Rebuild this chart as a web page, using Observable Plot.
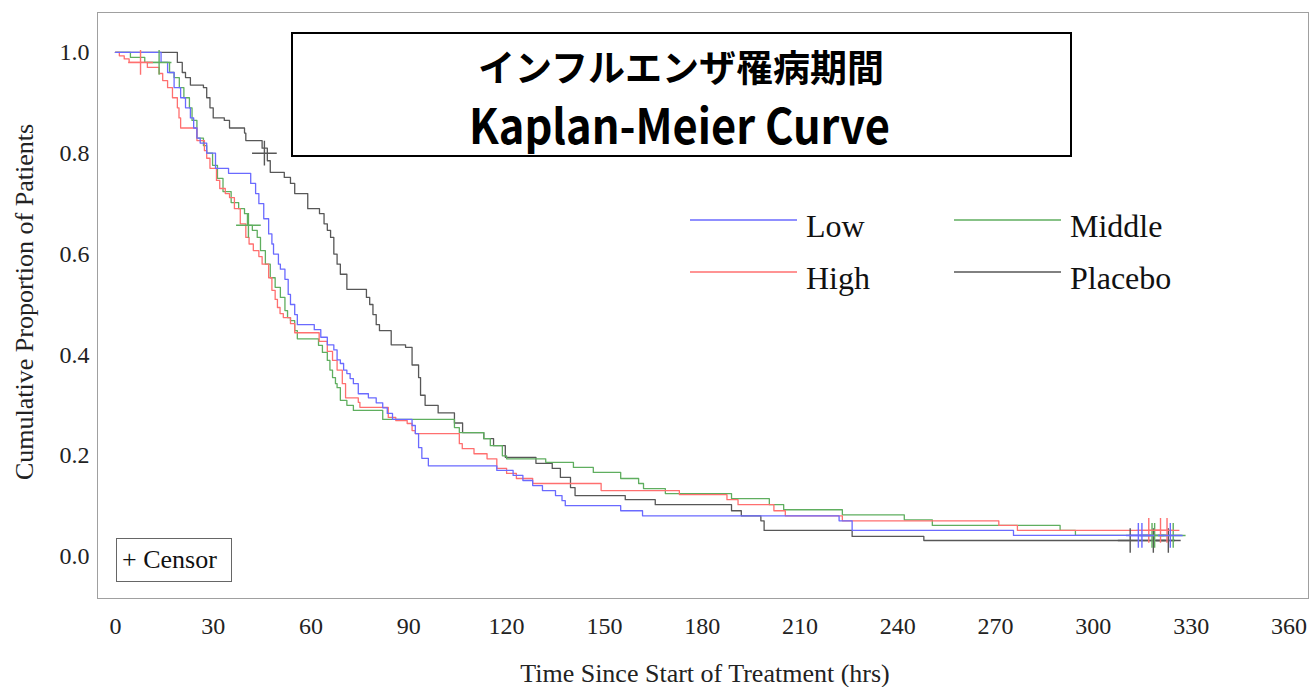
<!DOCTYPE html>
<html>
<head>
<meta charset="utf-8">
<script src="https://cdn.jsdelivr.net/npm/d3@7"></script>
<script src="https://cdn.jsdelivr.net/npm/@observablehq/plot@0.6"></script>
<style>
  html, body { margin: 0; padding: 0; background: white; }
  #chart { position: relative; width: 1314px; height: 687px; }
</style>
</head>
<body>
<div id="chart"></div>
<script>
// ---------------- DATA ----------------
const groups = ["Low", "Middle", "High", "Placebo"];
const groupColors = ["#6a6aff", "#5fae5f", "#ff6f6f", "#575757"];
const xTicks = [0, 30, 60, 90, 120, 150, 180, 210, 240, 270, 300, 330, 360];
const yTicks = [0, 0.2, 0.4, 0.6, 0.8, 1.0];

// Low
const lowT = [0, 14, 16, 18, 20, 21.5, 23, 24, 25, 26, 28, 30.7, 34.7, 41.5, 43, 44, 45.5, 47, 48, 48.5, 50, 50.6, 52, 53, 53.7, 55, 55.8, 61, 63, 65, 67, 68, 69, 70, 71, 72, 73, 74.5, 77.6, 80, 82, 83.4, 85, 91, 92, 93, 94, 96, 117, 122, 125, 128, 131, 135, 137, 138, 155, 161.7, 222, 226, 275.5, 323.6];
const lowS = [1.0, 0.98, 0.96, 0.93, 0.91, 0.89, 0.87, 0.85, 0.83, 0.82, 0.80, 0.77, 0.76, 0.74, 0.72, 0.70, 0.67, 0.64, 0.62, 0.60, 0.58, 0.57, 0.55, 0.52, 0.50, 0.48, 0.46, 0.45, 0.435, 0.42, 0.41, 0.39, 0.383, 0.37, 0.363, 0.353, 0.343, 0.323, 0.315, 0.305, 0.295, 0.284, 0.272, 0.26, 0.244, 0.216, 0.195, 0.18, 0.171, 0.161, 0.151, 0.141, 0.131, 0.121, 0.111, 0.101, 0.091, 0.081, 0.071, 0.052, 0.042, 0.042];
const lowCensorT = [313.8, 314.9, 323.6];
const lowCensorS = [0.042, 0.042, 0.042];

// Middle
const midT = [0, 4.6, 9, 16.6, 18, 19.6, 21, 22.7, 23.5, 25, 27, 28, 29.8, 31.3, 33, 35.5, 37.8, 39.6, 40.5, 42, 43.5, 44.5, 46, 47.5, 49, 50.6, 52, 52.8, 53.7, 55, 55.8, 62.3, 63.5, 65, 65.8, 66.6, 67.5, 68, 69, 71, 73, 82, 104, 105.5, 113, 115, 118.7, 120, 132, 140.5, 146.6, 155, 160.5, 162, 168.7, 189, 200.6, 205, 223, 242, 250.6, 289.8, 294.5, 327];
const midS = [1.0, 0.99, 0.98, 0.96, 0.95, 0.93, 0.91, 0.89, 0.865, 0.83, 0.815, 0.80, 0.776, 0.75, 0.724, 0.702, 0.69, 0.68, 0.657, 0.647, 0.633, 0.607, 0.58, 0.553, 0.534, 0.514, 0.488, 0.474, 0.468, 0.448, 0.432, 0.419, 0.405, 0.389, 0.37, 0.355, 0.343, 0.335, 0.31, 0.30, 0.29, 0.272, 0.256, 0.246, 0.234, 0.22, 0.20, 0.194, 0.187, 0.177, 0.167, 0.155, 0.145, 0.135, 0.125, 0.115, 0.103, 0.093, 0.083, 0.073, 0.062, 0.052, 0.042, 0.042];
const midCensorT = [13.4, 40.8, 318, 318.8, 324.5];
const midCensorS = [0.98, 0.657, 0.042, 0.042, 0.042];

// High
const highT = [0, 1.2, 2.7, 4.2, 9.8, 13.4, 14.5, 16, 17.5, 19, 19.5, 20, 25, 27.3, 28, 29, 31, 32, 33.7, 35, 36.5, 38.3, 40, 41, 42.3, 44, 45, 47, 48, 49, 49.7, 50.5, 51.5, 53.7, 55, 62.5, 65, 66.6, 68, 69.6, 70.6, 74.5, 75, 83.7, 86, 89.5, 91, 92, 105.5, 106.4, 110, 114, 117, 120, 123, 128, 149, 173, 187.6, 191, 202, 205.5, 223, 271, 276.7, 323];
const highS = [1.0, 0.993, 0.987, 0.98, 0.97, 0.958, 0.944, 0.93, 0.91, 0.89, 0.87, 0.85, 0.825, 0.805, 0.79, 0.77, 0.746, 0.73, 0.72, 0.712, 0.69, 0.66, 0.633, 0.62, 0.607, 0.595, 0.58, 0.553, 0.528, 0.51, 0.494, 0.482, 0.474, 0.462, 0.444, 0.427, 0.407, 0.389, 0.37, 0.343, 0.315, 0.306, 0.296, 0.276, 0.27, 0.264, 0.25, 0.244, 0.224, 0.214, 0.204, 0.194, 0.175, 0.165, 0.155, 0.145, 0.131, 0.123, 0.113, 0.103, 0.091, 0.081, 0.071, 0.062, 0.052, 0.052];
const highCensorT = [7.7, 317, 320.6, 322.6];
const highCensorS = [0.98, 0.052, 0.052, 0.052];

// Placebo
const plaT = [0, 19, 20.5, 21.5, 23, 27, 28, 29, 30, 33.4, 35, 39.6, 40, 45, 46.6, 47.5, 51.8, 53.7, 55, 59, 62.6, 64, 65, 66, 67, 68, 69, 71, 77, 78, 79, 80, 81, 84.6, 89, 91, 93, 93.6, 95, 99, 104, 106.5, 113, 116, 119.6, 129, 134, 136.5, 139.6, 141, 156.4, 165.6, 189, 192, 198, 199, 226, 248, 325];
const plaS = [1.0, 0.98, 0.96, 0.95, 0.935, 0.93, 0.91, 0.89, 0.87, 0.865, 0.85, 0.84, 0.825, 0.81, 0.785, 0.762, 0.752, 0.74, 0.72, 0.69, 0.68, 0.66, 0.647, 0.633, 0.60, 0.58, 0.56, 0.53, 0.514, 0.50, 0.48, 0.46, 0.448, 0.42, 0.415, 0.38, 0.355, 0.32, 0.30, 0.285, 0.265, 0.246, 0.234, 0.22, 0.197, 0.185, 0.175, 0.157, 0.137, 0.121, 0.113, 0.103, 0.091, 0.081, 0.071, 0.052, 0.04, 0.032, 0.032];
const plaCensorT = [45.7, 311.3, 318.4, 323];
const plaCensorS = [0.80, 0.032, 0.032, 0.032];

// ---------------- BUILD ROWS ----------------
const series = [
  {g: "Low", t: lowT, s: lowS, ct: lowCensorT, cs: lowCensorS},
  {g: "Middle", t: midT, s: midS, ct: midCensorT, cs: midCensorS},
  {g: "High", t: highT, s: highS, ct: highCensorT, cs: highCensorS},
  {g: "Placebo", t: plaT, s: plaS, ct: plaCensorT, cs: plaCensorS}
];
const drawOrder = ["Placebo", "Middle", "High", "Low"];
const curveRows = [];
const censorRows = [];
for (const name of drawOrder) {
  const d = series.find(e => e.g === name);
  d.t.forEach((t, i) => curveRows.push({group: d.g, t, s: d.s[i]}));
  d.ct.forEach((t, i) => censorRows.push({group: d.g, t, s: d.cs[i]}));
}

const marks = [
  Plot.frame({stroke: "#a0a0a0"}),
  Plot.line(curveRows, {x: "t", y: "s", z: "group", stroke: "group", curve: "step-after", strokeWidth: 1.3}),
  Plot.dot(censorRows, {x: "t", y: "s", stroke: "group", symbol: "plus", r: 8, strokeWidth: 1.4})
];
const xOpt = {domain: [-5.5, 366]};
const yOpt = {domain: [-0.083, 1.079]};
if (Plot.axisX) {
  marks.unshift(
    Plot.axisX(xTicks, {tickSize: 0, tickPadding: 18, label: null, fill: "#222"}),
    Plot.axisY(yTicks, {tickSize: 0, tickPadding: 8, label: null, tickFormat: d3.format(".1f"), fill: "#222"})
  );
} else {
  Object.assign(xOpt, {ticks: xTicks, tickSize: 0, tickPadding: 18, label: null});
  Object.assign(yOpt, {ticks: yTicks, tickSize: 0, tickPadding: 8, label: null, tickFormat: d3.format(".1f")});
}

const svg = Plot.plot({
  width: 1314,
  height: 687,
  marginLeft: 97,
  marginRight: 6,
  marginTop: 12,
  marginBottom: 89,
  x: xOpt,
  y: yOpt,
  color: {domain: groups, range: groupColors},
  style: {fontFamily: "'Liberation Serif', 'DejaVu Serif', serif", fontSize: "24px", color: "#222", background: "white"},
  marks
});
document.getElementById("chart").appendChild(svg);

// ---------------- OVERLAYS (titles, legends) ----------------
const s = d3.select(svg);
const serif = "'Liberation Serif', 'DejaVu Serif', serif";

// axis titles
s.append("text")
  .attr("transform", "translate(33,302) rotate(-90)")
  .attr("text-anchor", "middle")
  .attr("font-family", serif).attr("font-size", 26).attr("fill", "#222")
  .text("Cumulative Proportion of Patients");
s.append("text")
  .attr("x", 705).attr("y", 682)
  .attr("text-anchor", "middle")
  .attr("font-family", serif).attr("font-size", 26).attr("fill", "#222")
  .text("Time Since Start of Treatment (hrs)");

// title box
s.append("rect").attr("x", 292).attr("y", 33).attr("width", 779).attr("height", 123)
  .attr("fill", "white").attr("stroke", "black").attr("stroke-width", 2);
s.append("text")
  .attr("x", 681).attr("y", 82).attr("text-anchor", "middle")
  .attr("font-family", "'Noto Sans CJK JP', sans-serif").attr("font-weight", 700)
  .attr("font-size", 37).attr("fill", "black")
  .text("インフルエンザ罹病期間");
s.append("text")
  .attr("x", 469).attr("y", 144).attr("text-anchor", "start")
  .attr("textLength", 421).attr("lengthAdjust", "spacingAndGlyphs")
  .attr("font-family", "'Noto Sans CJK JP', sans-serif").attr("font-weight", 700)
  .attr("font-size", 48).attr("fill", "black")
  .text("Kaplan-Meier Curve");

// group legend
const legendPos = [
  {g: "Low", x: 690, y: 220},
  {g: "Middle", x: 954, y: 220},
  {g: "High", x: 690, y: 272},
  {g: "Placebo", x: 954, y: 272}
];
legendPos.forEach(p => {
  const c = groupColors[groups.indexOf(p.g)];
  s.append("line").attr("x1", p.x).attr("x2", p.x + 107).attr("y1", p.y).attr("y2", p.y)
    .attr("stroke", c).attr("stroke-width", 1.5);
  s.append("text").attr("x", p.x + 116).attr("y", p.y + 16.5).attr("text-anchor", "start")
    .attr("font-family", serif).attr("font-size", 32).attr("fill", "#111")
    .text(p.g);
});

// censor legend
s.append("rect").attr("x", 116.5).attr("y", 538.5).attr("width", 115).attr("height", 43)
  .attr("fill", "white").attr("stroke", "#666").attr("stroke-width", 1);
s.append("text").attr("x", 122).attr("y", 568).attr("text-anchor", "start")
  .attr("font-family", serif).attr("font-size", 26).attr("fill", "#111")
  .text("+ Censor");
</script>
</body>
</html>
